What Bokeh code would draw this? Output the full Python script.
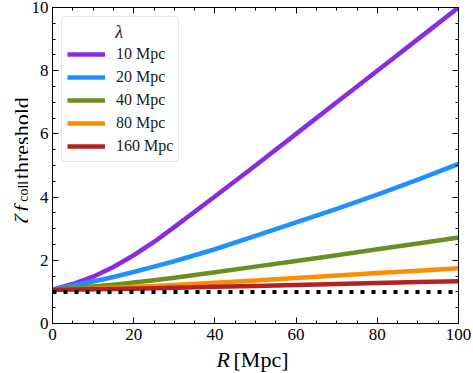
from bokeh.plotting import figure
from bokeh.models import (Range1d, LinearAxis, FixedTicker, Legend, LegendItem, Label,
                          CustomJSTickFormatter)
from bokeh.layouts import column, row
from bokeh.embed import file_html
from bokeh.resources import INLINE
import math

# ---- data ----
R = [0, 5, 10, 15, 20, 25, 30, 40, 50, 60, 70, 80, 90, 100]
zf_10 = [1.07, 1.25, 1.48, 1.79, 2.16, 2.58, 3.05, 4.02, 5.0, 6.0, 7.0, 8.0, 9.0, 10.0]
zf_20 = [1.07, 1.2, 1.33, 1.47, 1.63, 1.8, 1.97, 2.35, 2.77, 3.2, 3.63, 4.08, 4.55, 5.05]
zf_40 = [1.07, 1.12, 1.17, 1.23, 1.3, 1.37, 1.45, 1.62, 1.8, 1.98, 2.16, 2.35, 2.53, 2.72]
zf_80 = [1.07, 1.08, 1.1, 1.13, 1.16, 1.19, 1.22, 1.29, 1.36, 1.44, 1.52, 1.6, 1.67, 1.75]
zf_160 = [1.07, 1.075, 1.08, 1.09, 1.1, 1.115, 1.13, 1.16, 1.19, 1.22, 1.25, 1.28, 1.31, 1.34]
baseline = [1.0, 1.0]
baseline_R = [0, 100]
labels = ["10 Mpc", "20 Mpc", "40 Mpc", "80 Mpc", "160 Mpc"]
colors = ["#8A2BE2", "#1E90FF", "#6B8E23", "#FF8C00", "#B22222"]
series = [zf_10, zf_20, zf_40, zf_80, zf_160]
x_ticks = [0, 20, 40, 60, 80, 100]
y_ticks = [0, 2, 4, 6, 8, 10]
x_minor = [v for v in range(0, 101, 5)]
y_minor = [v * 0.5 for v in range(0, 21)]

SERIF = "Liberation Serif"
TOP_H = 348      # height of the main plot canvas
LEFT_W = 28      # width of the strip holding the y-axis title
BOT_H = 25       # height of the strip holding the x-axis title
W = 473

# ---------------- main plot ----------------
p = figure(width=W - LEFT_W, height=TOP_H, output_backend="svg", toolbar_location=None,
           x_range=Range1d(0, 100), y_range=Range1d(0, 10),
           min_border_left=21, min_border_right=15, min_border_top=7,
           min_border_bottom=25)
p.grid.visible = False
p.outline_line_color = "black"
p.outline_line_width = 1
p.background_fill_color = "white"
p.border_fill_color = "white"

xt = FixedTicker(ticks=x_ticks, minor_ticks=x_minor)
yt = FixedTicker(ticks=y_ticks, minor_ticks=y_minor)


def style_axis(ax, ticker, show_labels):
    ax.ticker = ticker
    ax.axis_line_color = "black"
    ax.major_tick_in = 6
    ax.major_tick_out = 0
    ax.minor_tick_in = 3
    ax.minor_tick_out = 0
    ax.major_tick_line_color = "black"
    ax.minor_tick_line_color = "black"
    ax.major_label_text_font = SERIF
    ax.major_label_text_color = "black"
    ax.major_label_text_font_size = "17px"
    if show_labels:
        ax.major_label_standoff = 5
    else:
        ax.formatter = CustomJSTickFormatter(code="return ''")
        ax.major_label_standoff = 0


style_axis(p.xaxis[0], xt, True)
style_axis(p.yaxis[0], yt, True)
p.yaxis[0].major_label_standoff = 4
top = LinearAxis()
right = LinearAxis()
style_axis(top, xt, False)
style_axis(right, yt, False)
p.add_layout(top, "above")
p.add_layout(right, "right")

items = []
for lab, col, ys in zip(labels, colors, series):
    r = p.line(R, ys, line_color=col, line_width=4.5, line_join="round")
    items.append(LegendItem(label=lab, renderers=[r]))

p.line(baseline_R, baseline, line_color="black", line_width=4,
       line_dash="4 7", line_cap="butt")

legend = Legend(items=items, location="top_left", margin=9, padding=5,
                spacing=3, glyph_width=38, glyph_height=20, label_height=20,
                label_standoff=11, label_text_font=SERIF,
                label_text_font_size="16px", label_text_color="#1a1a1a",
                title=" ", title_text_font_size="16px", title_standoff=4,
                border_line_color="#cccccc", border_line_width=1,
                background_fill_color="white", background_fill_alpha=0.0)
if "border_radius" in Legend.properties():
    legend.border_radius = 4
p.add_layout(legend)

# legend title, centred as in the original
p.add_layout(Label(x=16.4, y=9.24, text="λ", text_font=SERIF,
                   text_font_style="italic", text_font_size="18px",
                   text_align="center", text_baseline="middle",
                   text_color="#1a1a1a", level="overlay"))


def blank_fig(w, h):
    f = figure(width=w, height=h, output_backend="svg", toolbar_location=None,
               x_range=Range1d(0, w), y_range=Range1d(0, h),
               min_border=0, min_border_left=0, min_border_right=0,
               min_border_top=0, min_border_bottom=0)
    f.axis.visible = False
    f.grid.visible = False
    f.outline_line_color = None
    f.background_fill_color = "white"
    f.border_fill_color = "white"
    return f


# ---------------- y-axis title strip ----------------
yl = blank_fig(LEFT_W, TOP_H)
yl.text(x=[21], y=[TOP_H - 238], text=["ζ"], angle=math.pi / 2,
        text_font=SERIF, text_font_style="italic", text_font_size="22px",
        text_align="left", text_baseline="alphabetic", text_color="black")
yl.text(x=[21], y=[TOP_H - 225], text=["f"], angle=math.pi / 2,
        text_font=SERIF, text_font_style="italic", text_font_size="22px",
        text_align="left", text_baseline="alphabetic", text_color="black")
yl.text(x=[23], y=[TOP_H - 214], text=["coll"], angle=math.pi / 2,
        text_font=SERIF, text_font_size="14px",
        text_align="left", text_baseline="alphabetic", text_color="black")
yl.text(x=[21], y=[TOP_H - 189], text=["threshold"], angle=math.pi / 2,
        text_font=SERIF, text_font_size="22px",
        text_align="left", text_baseline="alphabetic", text_color="black")

# ---------------- x-axis title strip ----------------
xl = blank_fig(W, BOT_H)
xl.text(x=[216], y=[14], text=["R"], text_font=SERIF, text_font_style="italic",
        text_font_size="22px", text_align="left", text_baseline="middle",
        text_color="black")
xl.text(x=[233], y=[14], text=["[Mpc]"], text_font=SERIF,
        text_font_size="22px", text_align="left", text_baseline="middle",
        text_color="black")

layout = column(row(yl, p, spacing=0), xl, spacing=0)

open("out.html", "w").write(file_html(layout, INLINE))
